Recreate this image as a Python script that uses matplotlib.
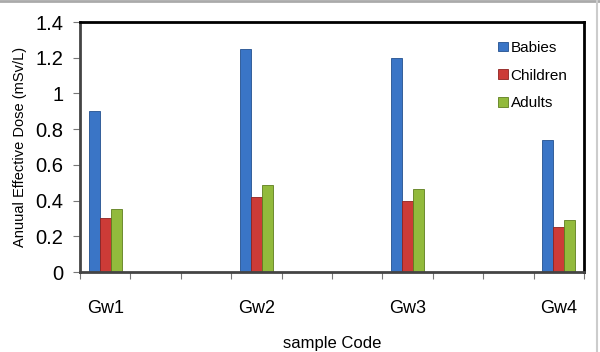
import matplotlib.pyplot as plt
import numpy as np

plt.rcParams['font.family'] = ['Liberation Sans', 'DejaVu Sans']

# 10 slots on the x axis, only every third one carries a sample
slot_labels = ['Gw1', '', '', 'Gw2', '', '', 'Gw3', '', '', 'Gw4']
sample_slots = [0, 3, 6, 9]
babies = [0.90, 1.25, 1.20, 0.74]
children = [0.30, 0.42, 0.40, 0.25]
adults = [0.355, 0.485, 0.465, 0.29]

series = [('Babies', babies, '#3A75C6', '#23508F'),
          ('Children', children, '#CC3B37', '#8E2220'),
          ('Adults', adults, '#92BA3C', '#5E7E1E')]

fig = plt.figure(figsize=(6.0, 3.52), dpi=100)
ax = fig.add_axes([80 / 600, 1 - 272 / 352, 504 / 600, 250 / 352])
ax.set_xlim(0, 10)
ax.set_ylim(0, 1.4)

w = 0.22
x = np.array(sample_slots) + 0.5
for i, (name, vals, col, edge) in enumerate(series):
    ax.bar(x + (i - 1) * w, vals, width=w, color=col, edgecolor=edge,
           linewidth=0.6, label=name)

ax.set_xticks(np.arange(0, 11))
ax.set_xticklabels([])
ax.set_xticks(np.arange(10) + 0.5, minor=True)
ax.set_xticklabels(slot_labels, minor=True, fontsize=13)
ax.tick_params(axis='x', which='minor', length=0, pad=20)
ax.tick_params(axis='x', which='major', length=5, direction='out', color='#777777')

ax.set_yticks(np.arange(0, 1.41, 0.2))
ax.set_yticklabels(['0', '0.2', '0.4', '0.6', '0.8', '1', '1.2', '1.4'])
ax.tick_params(axis='y', labelsize=14.5, length=5, color='#777777', pad=7)

for s in ['top', 'right']:
    ax.spines[s].set_linewidth(2)
    ax.spines[s].set_color('black')
for s in ['left', 'bottom']:
    ax.spines[s].set_linewidth(2)
    ax.spines[s].set_color('#444444')

ax.set_ylabel('Anuual Effective Dose (mSv/L)', fontsize=10.5, labelpad=6)
ax.set_xlabel('sample Code', fontsize=12, labelpad=14)

leg = ax.legend(loc='upper left', bbox_to_anchor=(0.803, 0.98), frameon=False,
                fontsize=11, handlelength=0.6, handleheight=0.6,
                handletextpad=0.2, labelspacing=0.9)

# thin gray border like the source image
fig.add_artist(plt.Line2D([0, 1], [0.997, 0.997], color='#aaaaaa', lw=2,
                          transform=fig.transFigure))
fig.add_artist(plt.Line2D([597 / 600, 597 / 600], [0, 1], color='#cccccc', lw=1.5,
                          transform=fig.transFigure))

fig.savefig('out.png', dpi=100)
